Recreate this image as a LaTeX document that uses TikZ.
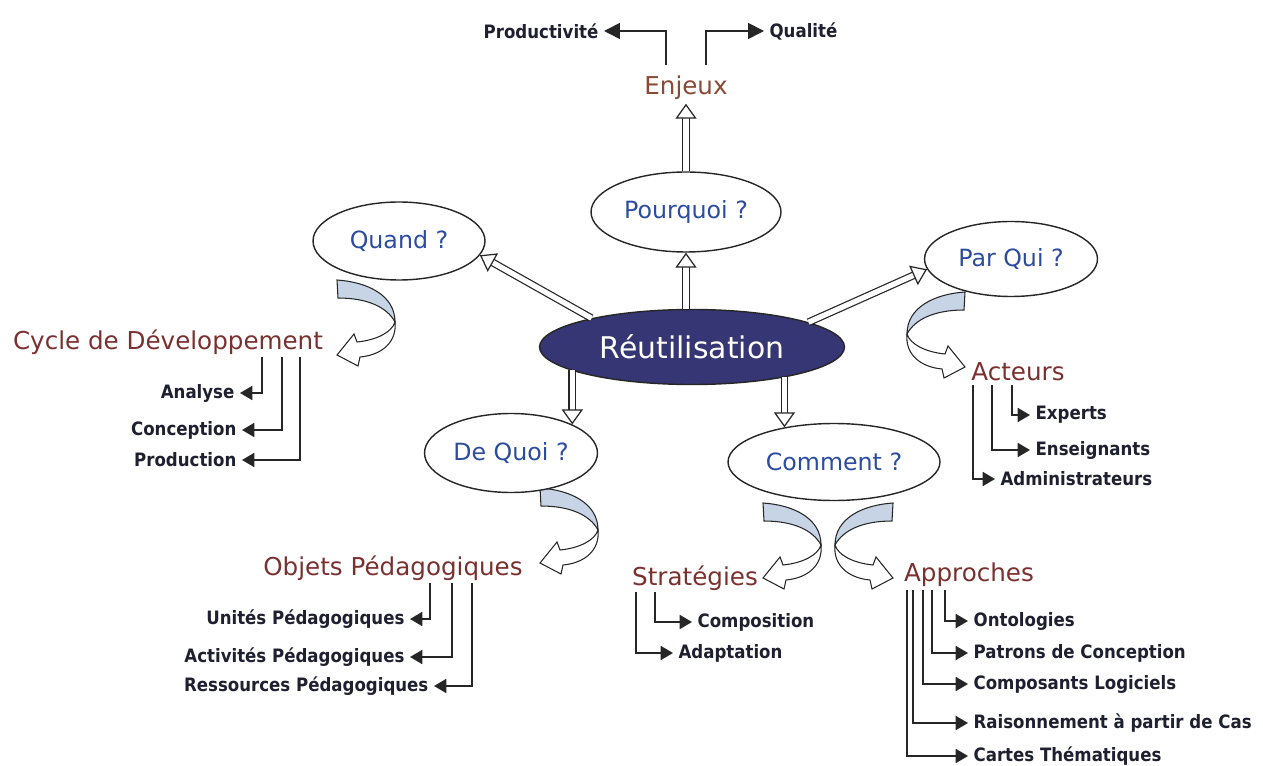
\documentclass[tikz,border=0pt]{standalone}
\usepackage{fontspec}
\setmainfont{DejaVu Sans}
\newfontfamily\leaffont[FakeStretch=0.9]{DejaVu Sans}
\usetikzlibrary{arrows.meta, calc, positioning, shapes.geometric}

\definecolor{topicbrown}{RGB}{122,48,46}
\definecolor{enjeuxbrown}{RGB}{138,74,52}
\definecolor{qblue}{RGB}{44,76,160}
\definecolor{reutnavy}{RGB}{54,54,116}
\definecolor{ribbonblue}{RGB}{198,212,230}
\definecolor{leafdark}{RGB}{30,32,48}

\tikzset{
  ribbon/.pic={
    \filldraw[draw=black!85, line width=0.6pt, fill=ribbonblue] (0,0) .. controls (30,2) and (58,15) .. (58,42) .. controls (50,27) and (30,18) .. (1,18) -- cycle;
    \filldraw[draw=black!85, line width=0.6pt, fill=white] (58,42) .. controls (60,62) and (45,75) .. (23,77) -- (21,86) -- (0,75) -- (17,54) -- (20,62) .. controls (40,60) and (55,52) .. (58,42) -- cycle;
  }
}

\begin{document}
\begin{tikzpicture}[x=0.02cm, y=-0.02cm,
  question/.style={ellipse, draw=black!85, line width=0.8pt, fill=white, text=qblue, font=\fontsize{13.5}{15}\selectfont, inner sep=0pt},
  topic/.style={text=topicbrown, font=\fontsize{14}{16}\selectfont, inner sep=2pt},
  leaf/.style={text=leafdark, font=\leaffont\bfseries\fontsize{10.5}{12}\selectfont, inner xsep=3pt, inner ysep=1pt},
  tree/.style={draw=black!85, line width=0.9pt, -{Triangle[length=7pt, width=8pt]}},
  hollow/.style={draw=white, line width=0.7pt,
    -{Triangle[open, fill=white, color=black!85, length=8.5pt, width=12pt]},
    preaction={draw=black!85, double=white, double distance=3pt, shorten >=6pt, arrows=-}}]
  \useasboundingbox (0,0) rectangle (1263,766);

  % Curved ribbons under the questions
  \pic at (337,280) {ribbon};
  \pic[xscale=-1] at (965,292) {ribbon};
  \pic at (540,488) {ribbon};
  \pic at (763,503) {ribbon};
  \pic[xscale=-1] at (893,503) {ribbon};

  % Centre and questions
  \node[question, minimum width=6.1cm, minimum height=1.5cm, fill=reutnavy, text=white, font=\fontsize{17}{20}\selectfont] (reut) at (692,347) {Réutilisation};
  \node[question, minimum width=3.8cm, minimum height=1.6cm] (pourquoi) at (686,212) {Pourquoi ?};
  \node[question, minimum width=3.44cm, minimum height=1.56cm] (quand) at (399,241) {Quand ?};
  \node[question, minimum width=3.46cm, minimum height=1.5cm] (parqui) at (1011,259) {Par Qui ?};
  \node[question, minimum width=3.46cm, minimum height=1.58cm] (dequoi) at (511,453) {De Quoi ?};
  \node[question, minimum width=4.24cm, minimum height=1.54cm] (comment) at (834,462) {Comment ?};

  % Topics
  \node[topic, text=enjeuxbrown] (enjeux) at (686,88) {Enjeux};
  \node[topic] (cycle) at (168,342) {Cycle de Développement};
  \node[topic] (acteurs) at (1018,372) {Acteurs};
  \node[topic] (objets) at (393,568) {Objets Pédagogiques};
  \node[topic] (strategies) at (695,578) {Stratégies};
  \node[topic] (approches) at (969,575) {Approches};

  % Leaves
  \node[leaf, anchor=east] (prod) at (604,31) {Productivité};
  \node[leaf, anchor=west] (qual) at (764,31) {Qualité};
  \node[leaf, anchor=east] (analyse) at (240,393) {Analyse};
  \node[leaf, anchor=east] (conception) at (242,430) {Conception};
  \node[leaf, anchor=east] (production) at (242,460) {Production};
  \node[leaf, anchor=west] (experts) at (1030,415) {Experts};
  \node[leaf, anchor=west] (enseignants) at (1030,450) {Enseignants};
  \node[leaf, anchor=west] (admin) at (995,479) {Administrateurs};
  \node[leaf, anchor=east] (unites) at (410,619) {Unités Pédagogiques};
  \node[leaf, anchor=east] (activites) at (410,657) {Activités Pédagogiques};
  \node[leaf, anchor=east] (ressources) at (434,686) {Ressources Pédagogiques};
  \node[leaf, anchor=west] (composition) at (692,622) {Composition};
  \node[leaf, anchor=west] (adaptation) at (673,653) {Adaptation};
  \node[leaf, anchor=west] (ontologies) at (968,621) {Ontologies};
  \node[leaf, anchor=west] (patrons) at (968,653) {Patrons de Conception};
  \node[leaf, anchor=west] (composants) at (968,684) {Composants Logiciels};
  \node[leaf, anchor=west] (raisonnement) at (968,723) {Raisonnement à partir de Cas};
  \node[leaf, anchor=west] (cartes) at (968,756) {Cartes Thématiques};

  % Hollow arrows from the centre
  \draw[hollow] (reut.164) -- (quand.-10);
  \draw[hollow] (reut.north -| pourquoi.south) -- (pourquoi.south);
  \draw[hollow] (reut.12) -- (parqui.187);
  \draw[hollow] (reut.191 -| dequoi.25) -- (dequoi.25);
  \draw[hollow] (reut.-18 -| comment.145) -- (comment.145);
  \draw[hollow] (pourquoi) -- (enjeux);

  % Elbow arrows to the leaves
  \draw[tree, -{Triangle[length=9pt, width=9pt]}] (enjeux.center) ++(-20,-23) |- (prod.east);
  \draw[tree, -{Triangle[length=9pt, width=9pt]}] (enjeux.center) ++(20,-23) |- (qual.west);
  \draw[tree] (cycle.center) ++(94,15) |- (analyse.east);
  \draw[tree] (cycle.center) ++(114,15) |- (conception.east);
  \draw[tree] (cycle.center) ++(132,15) |- (production.east);
  \draw[tree] (acteurs.center) ++(-6,13) |- (experts.west);
  \draw[tree] (acteurs.center) ++(-26,13) |- (enseignants.west);
  \draw[tree] (acteurs.center) ++(-45,13) |- (admin.west);
  \draw[tree] (objets.center) ++(37,15) |- (unites.east);
  \draw[tree] (objets.center) ++(59,15) |- (activites.east);
  \draw[tree] (objets.center) ++(79,15) |- (ressources.east);
  \draw[tree] (strategies.center) ++(-40,14) |- (composition.west);
  \draw[tree] (strategies.center) ++(-59,14) |- (adaptation.west);
  \draw[tree] (approches.center) ++(-24,15) |- (ontologies.west);
  \draw[tree] (approches.center) ++(-37,15) |- (patrons.west);
  \draw[tree] (approches.center) ++(-46,15) |- (composants.west);
  \draw[tree] (approches.center) ++(-56,15) |- (raisonnement.west);
  \draw[tree] (approches.center) ++(-62,15) |- (cartes.west);
\end{tikzpicture}
\end{document}
